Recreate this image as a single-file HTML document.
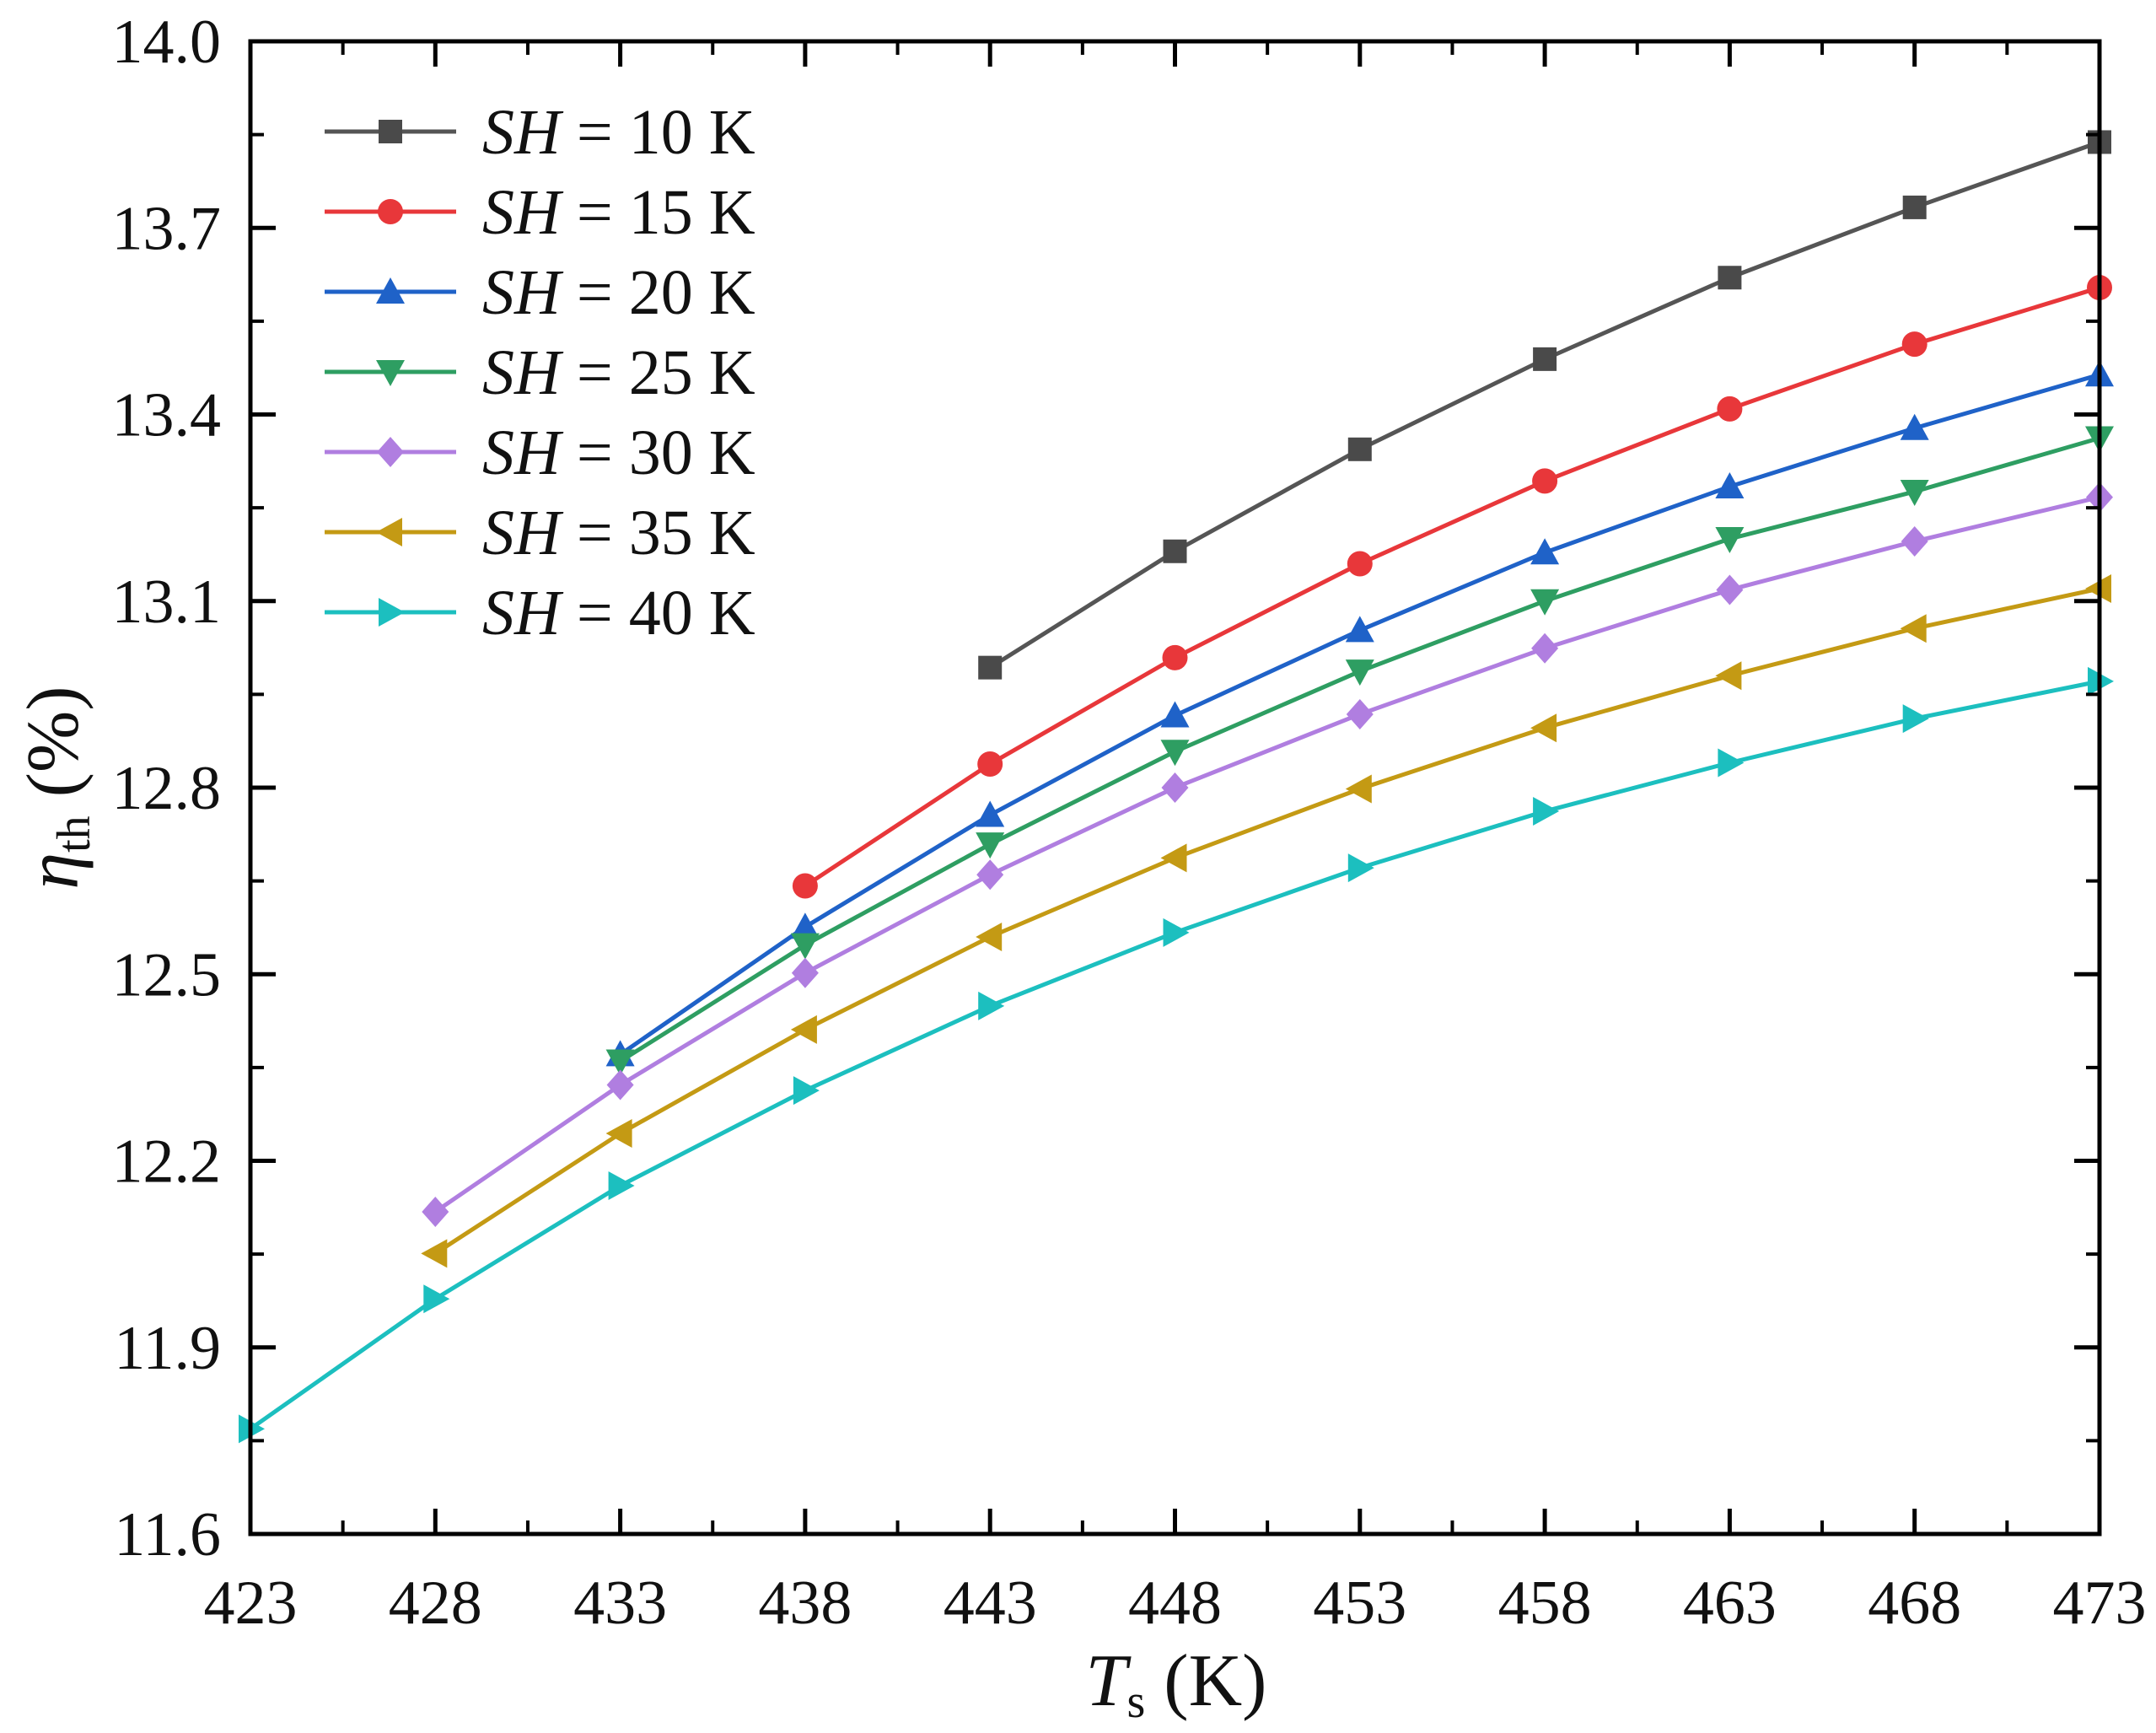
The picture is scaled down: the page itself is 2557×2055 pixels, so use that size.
<!DOCTYPE html>
<html><head><meta charset="utf-8"><style>
html,body{margin:0;padding:0;background:#fff;}
svg{display:block;font-family:"Liberation Serif",serif;}
</style></head><body>
<svg id="chart" width="2557" height="2055" viewBox="0 0 2557 2055" xmlns="http://www.w3.org/2000/svg">
<g id="marks"></g>
</svg>
<script>
const xCategories = [423,428,433,438,443,448,453,458,463,468,473];
const xTickLabels = ["423","428","433","438","443","448","453","458","463","468","473"];
const yTickLabels = ["11.6","11.9","12.2","12.5","12.8","13.1","13.4","13.7","14.0"];
const seriesNames = ["SH = 10 K","SH = 15 K","SH = 20 K","SH = 25 K","SH = 30 K","SH = 35 K","SH = 40 K"];
const sh10 = [null,null,null,null,12.993,13.18,13.344,13.489,13.62,13.733,13.838];
const sh15 = [null,null,null,12.642,12.838,13.009,13.16,13.293,13.409,13.513,13.604];
const sh20 = [null,null,12.371,12.576,12.756,12.916,13.053,13.178,13.284,13.378,13.464];
const sh25 = [null,null,12.36,12.547,12.709,12.858,12.987,13.1,13.2,13.276,13.362];
const sh30 = [null,12.118,12.322,12.502,12.66,12.8,12.918,13.024,13.118,13.196,13.267];
const sh35 = [null,12.051,12.244,12.411,12.56,12.687,12.798,12.896,12.98,13.056,13.12];
const sh40 = [11.769,11.978,12.16,12.313,12.449,12.567,12.671,12.762,12.84,12.911,12.971];

const NS="http://www.w3.org/2000/svg";
const L=297,R=2490,T=49,B=1819;
const xMin=423,xMax=473,yMin=11.6,yMax=14.0;
const xs=v=>L+(v-xMin)/(xMax-xMin)*(R-L);
const ys=v=>B-(v-yMin)/(yMax-yMin)*(B-T);
const svg=document.getElementById('chart');
function mk(tag,attrs,parent){const e=document.createElementNS(NS,tag);for(const k in attrs)e.setAttribute(k,attrs[k]);(parent||svg).appendChild(e);return e;}

const series=[sh10,sh15,sh20,sh25,sh30,sh35,sh40];
const lineColors=["#555555","#e8373a","#1f62c8","#2e9e62","#b07ee0","#c49a14","#1cbfbf"];
const markColors=["#4a4a4a","#e8373a","#1f62c8","#2e9e62","#b07ee0","#c49a14","#1cbfbf"];
const shapes=["square","circle","up","down","diamond","left","right"];

function marker(shape,cx,cy,color,parent){
  const s=14;let e;
  if(shape==="square")e=mk('rect',{x:cx-s,y:cy-s,width:2*s,height:2*s,fill:color},parent);
  else if(shape==="circle")e=mk('circle',{cx:cx,cy:cy,r:s+1,fill:color},parent);
  else{
    let p;
    if(shape==="up")p=[[cx,cy-s-3],[cx+s+3,cy+s],[cx-s-3,cy+s]];
    if(shape==="down")p=[[cx,cy+s+3],[cx+s+3,cy-s],[cx-s-3,cy-s]];
    if(shape==="left")p=[[cx-s-3,cy],[cx+s,cy-s-3],[cx+s,cy+s+3]];
    if(shape==="right")p=[[cx+s+3,cy],[cx-s,cy-s-3],[cx-s,cy+s+3]];
    if(shape==="diamond")p=[[cx,cy-s-4],[cx+s+2,cy],[cx,cy+s+4],[cx-s-2,cy]];
    e=mk('polygon',{points:p.map(q=>q.join(',')).join(' '),fill:color},parent);
  }
  return e;
}

series.forEach((arr,i)=>{
  const g=mk('g',{});
  
  
  const pts=[];
  arr.forEach((v,j)=>{if(v!==null)pts.push([xs(xCategories[j]),ys(v)]);});
  const pl=mk('polyline',{points:pts.map(p=>p.join(',')).join(' '),fill:'none',stroke:lineColors[i],'stroke-width':5,'stroke-linejoin':'round'},g);
  
  
  pts.forEach(p=>{
    const m=marker(shapes[i],p[0],p[1],markColors[i],g);
    
    
  });
});

const fr=mk('rect',{x:L,y:T,width:R-L,height:B-T,fill:'none',stroke:'#000','stroke-width':5});



const xt=mk('g',{});


xCategories.forEach((v,i)=>{
  const x=xs(v);
  mk('line',{x1:x,y1:B,x2:x,y2:B-30,stroke:'#000','stroke-width':5},xt);
  mk('line',{x1:x,y1:T,x2:x,y2:T+30,stroke:'#000','stroke-width':5},xt);
  if(i<xCategories.length-1){
    const xm=xs(v+2.5);
    mk('line',{x1:xm,y1:B,x2:xm,y2:B-16,stroke:'#000','stroke-width':4},xt);
    mk('line',{x1:xm,y1:T,x2:xm,y2:T+16,stroke:'#000','stroke-width':4},xt);
  }
  const t=mk('text',{x:x,y:1925,'text-anchor':'middle','font-size':74,fill:'#111'},xt);
  t.textContent=xTickLabels[i];
  
  
});
const yt=mk('g',{});


yTickLabels.forEach((lab,i)=>{
  const v=parseFloat(lab),y=ys(v);
  mk('line',{x1:L,y1:y,x2:L+30,y2:y,stroke:'#000','stroke-width':5},yt);
  mk('line',{x1:R,y1:y,x2:R-30,y2:y,stroke:'#000','stroke-width':5},yt);
  if(i<yTickLabels.length-1){
    const ym=ys(v+0.15);
    mk('line',{x1:L,y1:ym,x2:L+16,y2:ym,stroke:'#000','stroke-width':4},yt);
    mk('line',{x1:R,y1:ym,x2:R-16,y2:ym,stroke:'#000','stroke-width':4},yt);
  }
  const t=mk('text',{x:262,y:y+25,'text-anchor':'end','font-size':74,fill:'#111'},yt);
  t.textContent=lab;
  
  
});

const xtl=mk('text',{x:1395,y:2022,'text-anchor':'middle','font-size':88,fill:'#111'});


xtl.innerHTML='<tspan font-style="italic">T</tspan><tspan font-size="56" dy="14">s</tspan><tspan dy="-14"> (K)</tspan>';
const ytl=mk('text',{x:0,y:0,'text-anchor':'middle','font-size':88,fill:'#111',transform:'translate(92,934) rotate(-90)'});


ytl.innerHTML='<tspan font-style="italic">η</tspan><tspan font-size="56" dy="14">th</tspan><tspan dy="-14"> (%)</tspan>';

const lg=mk('g',{});


seriesNames.forEach((n,i)=>{
  const y=156+95*i;
  const e=mk('g',{},lg);
  
  
  mk('line',{x1:385,y1:y,x2:541,y2:y,stroke:lineColors[i],'stroke-width':5},e);
  marker(shapes[i],463,y,markColors[i],e);
  const t=mk('text',{x:572,y:y+26,'font-size':76,fill:'#111'},e);
  t.innerHTML='<tspan font-style="italic">SH</tspan> = '+(10+5*i)+' K';
});
</script>
</body></html>
